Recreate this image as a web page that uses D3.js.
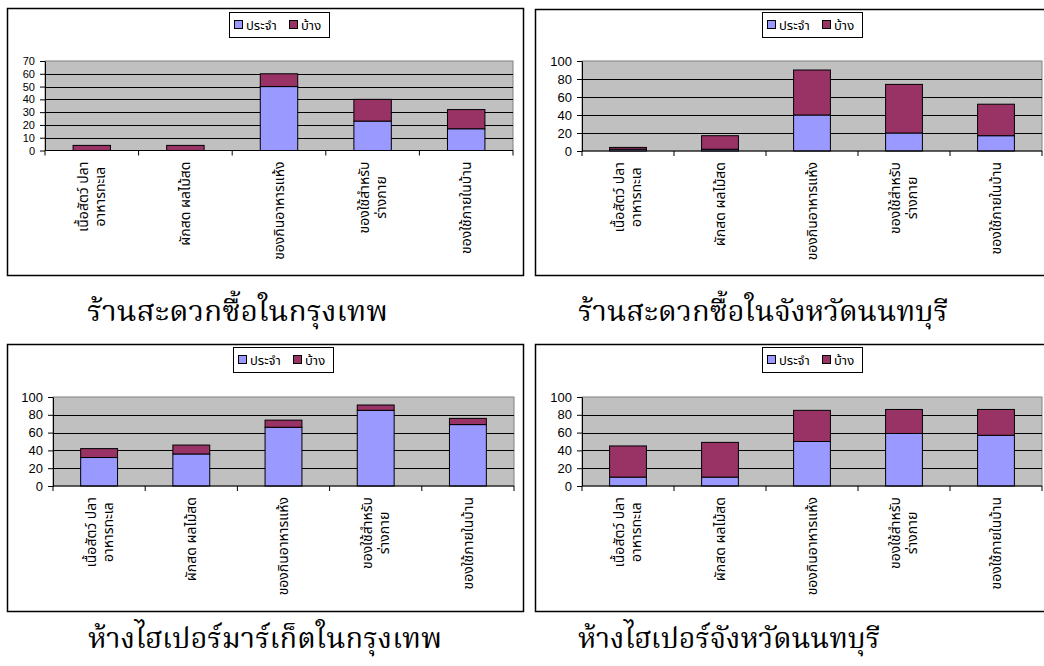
<!DOCTYPE html>
<html><head><meta charset="utf-8">
<script src="https://cdn.jsdelivr.net/npm/d3@7"></script>
<style>
html,body{margin:0;padding:0;background:#fff;}
svg{display:block;}
</style></head>
<body>
<svg id="c" width="1044" height="666"></svg>
<script>
// ---------- data ----------
const categories = [
  ["เนื้อสัตว์ ปลา", "อาหารทะเล"],
  ["ผักสด ผลไม้สด"],
  ["ของกินอาหารแห้ง"],
  ["ของใช้สำหรับ", "ร่างกาย"],
  ["ของใช้ภายในบ้าน"]
];
const seriesNames = ["ประจำ", "บ้าง"];
const chartTitles = [
  "ร้านสะดวกซื้อในกรุงเทพ",
  "ร้านสะดวกซื้อในจังหวัดนนทบุรี",
  "ห้างไฮเปอร์มาร์เก็ตในกรุงเทพ",
  "ห้างไฮเปอร์จังหวัดนนทบุรี"
];
// convenience store, Bangkok
const convBkkRegular = [0, 0, 50, 23, 17];
const convBkkSome    = [4, 4, 10, 17, 15];
// convenience store, Nonthaburi
const convNonRegular = [2, 2, 40, 20, 17];
const convNonSome    = [2, 15, 50, 54, 35];
// hypermarket, Bangkok
const hyperBkkRegular = [32, 36, 66, 85, 69];
const hyperBkkSome    = [10, 10, 8, 6, 7];
// hypermarket, Nonthaburi
const hyperNonRegular = [10, 10, 50, 59, 57];
const hyperNonSome    = [35, 39, 35, 27, 29];
// y axis tick values
const ticks70  = [0, 10, 20, 30, 40, 50, 60, 70];
const ticks100 = [0, 20, 40, 60, 80, 100];

// ---------- layout ----------
const panels = [
  {reg: convBkkRegular, some: convBkkSome, ticks: ticks70, title: chartTitles[0], tickFont: 11,
   box: [7, 8, 516, 267], plot: [45, 513, 61, 150.5], legend: [229, 12], titlePos: [87, 321, 301]},
  {reg: convNonRegular, some: convNonSome, ticks: ticks100, title: chartTitles[1], tickFont: 13,
   box: [535, 9, 520, 266], plot: [582, 1042, 61, 151], legend: [762, 12], titlePos: [578, 321, 370]},
  {reg: hyperBkkRegular, some: hyperBkkSome, ticks: ticks100, title: chartTitles[2], tickFont: 13,
   box: [7, 344, 516, 267], plot: [53, 514, 397, 486], legend: [233, 347], titlePos: [88, 648, 354]},
  {reg: hyperNonRegular, some: hyperNonSome, ticks: ticks100, title: chartTitles[3], tickFont: 13,
   box: [535, 344, 520, 267], plot: [582, 1042, 397, 486], legend: [762, 347], titlePos: [578, 648, 302]}
];
const colors = ["#9999FF", "#993366"];
const thaiSans = "'Noto Sans Thai','Noto Sans','DejaVu Sans',Tahoma,Arial,sans-serif";
const thaiSerif = "'Noto Serif Thai','Noto Serif','DejaVu Serif','Liberation Serif',serif";

const svg = d3.select("#c");

panels.forEach(p => {
  const g = svg.append("g");
  const [bx, by, bw, bh] = p.box;
  g.append("rect").attr("x", bx + 0.5).attr("y", by + 0.5).attr("width", bw).attr("height", bh)
    .attr("fill", "#fff").attr("stroke", "#000").attr("stroke-width", 1.5);

  const [l, r, t, b] = p.plot;
  const idx = categories.map((d, i) => i);
  const x = d3.scaleBand().domain(idx).range([l, r]).paddingInner(0.6).paddingOuter(0.3);
  const yMax = d3.max(p.ticks);
  const y = d3.scaleLinear().domain([0, yMax]).range([b, t]);

  // plot area
  g.append("rect").attr("x", l).attr("y", t).attr("width", r - l).attr("height", b - t)
    .attr("fill", "#C0C0C0").attr("stroke", "#808080").attr("stroke-width", 1);

  // gridlines
  g.append("g").selectAll("line").data(p.ticks.filter(v => v > 0 && v < yMax)).join("line")
    .attr("x1", l).attr("x2", r).attr("y1", d => Math.round(y(d)) + 0.5).attr("y2", d => Math.round(y(d)) + 0.5)
    .attr("stroke", "#000").attr("stroke-width", 1);

  // stacked bars
  const rows = idx.map(i => ({i, reg: p.reg[i], some: p.some[i]}));
  const stack = d3.stack().keys(["reg", "some"])(rows);
  stack.forEach((layer, li) => {
    g.append("g").selectAll("rect").data(layer).join("rect")
      .attr("x", d => x(d.data.i))
      .attr("width", x.bandwidth())
      .attr("y", d => y(d[1]))
      .attr("height", d => Math.max(0, y(d[0]) - y(d[1])))
      .attr("fill", colors[li])
      .attr("stroke", "#000").attr("stroke-width", 1)
      .attr("display", d => (d[1] - d[0]) > 0 ? null : "none");
  });

  // y axis
  const ya = g.append("g").attr("transform", `translate(${l},0)`)
    .call(d3.axisLeft(y).tickValues(p.ticks).tickSize(5).tickPadding(5).tickSizeOuter(0));
  ya.select(".domain").attr("stroke", "#000");
  ya.selectAll("text").attr("font-family", "Arial, 'Liberation Sans', sans-serif")
    .attr("font-size", p.tickFont).attr("fill", "#000");

  // x axis line + tick marks at category boundaries
  g.append("line").attr("x1", l).attr("x2", r).attr("y1", b).attr("y2", b).attr("stroke", "#000");
  const step = x.step();
  g.append("g").selectAll("line").data(d3.range(categories.length + 1)).join("line")
    .attr("x1", d => l + d * step).attr("x2", d => l + d * step)
    .attr("y1", b).attr("y2", b + 5).attr("stroke", "#000");

  // category labels (rotated)
  idx.forEach(i => {
    const lines = categories[i];
    const cx = x(i) + x.bandwidth() / 2;
    const lh = 17;
    const tg = g.append("g").attr("transform", `translate(${cx},${b + 11}) rotate(-90)`);
    lines.forEach((s, k) => {
      const off = (k - (lines.length - 1) / 2) * lh;
      tg.append("text").attr("x", 0).attr("y", off).attr("dy", "0.35em")
        .attr("text-anchor", "end")
        .attr("font-family", thaiSans).attr("font-size", 14).attr("fill", "#000")
        .text(s);
    });
    const texts = tg.selectAll("text").nodes();
    const widths = texts.map(n => n.getComputedTextLength());
    const maxW = d3.max(widths);
    texts.forEach((n, k) => d3.select(n).attr("x", -(maxW - widths[k]) / 2));
  });

  // legend
  const [lx, ly] = p.legend;
  const lg = g.append("g").attr("transform", `translate(${lx},${ly})`);
  lg.append("rect").attr("x", 0.5).attr("y", 0.5).attr("width", 100).attr("height", 25)
    .attr("fill", "#fff").attr("stroke", "#000");
  const items = [{x: 5, tx: 17}, {x: 60, tx: 72}];
  seriesNames.forEach((n, k) => {
    lg.append("rect").attr("x", items[k].x + 0.5).attr("y", 8.5).attr("width", 8).attr("height", 8)
      .attr("fill", colors[k]).attr("stroke", "#000");
    lg.append("text").attr("x", items[k].tx).attr("y", 13).attr("dy", "0.35em")
      .attr("font-family", thaiSans).attr("font-size", 13).attr("fill", "#000").text(n);
  });

  // title under the panel
  const [tx, ty, tl] = p.titlePos;
  svg.append("text").attr("x", tx).attr("y", ty)
    .attr("font-family", thaiSerif).attr("font-size", 29).attr("fill", "#000")
    .attr("textLength", tl).attr("lengthAdjust", "spacingAndGlyphs")
    .text(p.title);
});
</script>
</body></html>
